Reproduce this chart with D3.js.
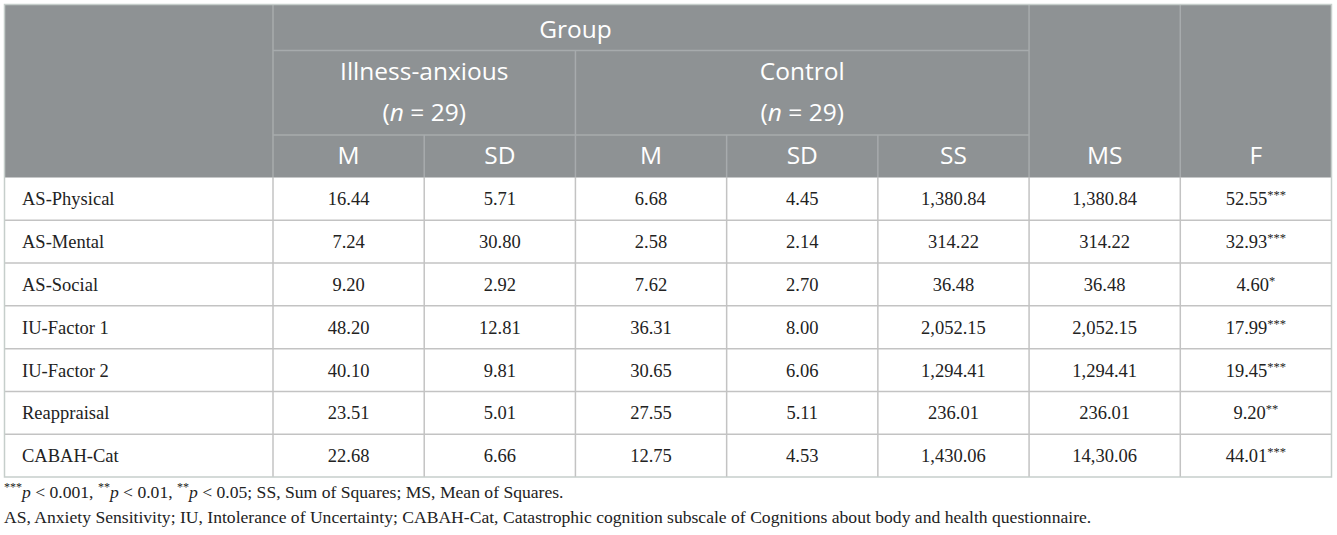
<!DOCTYPE html>
<html><head><meta charset="utf-8">
<script src="https://cdn.jsdelivr.net/npm/d3@7"></script>
<style>body{margin:0;background:#fff;} svg{display:block;}</style>
</head><body>
<script>
const rowLabels = ["AS-Physical","AS-Mental","AS-Social","IU-Factor 1","IU-Factor 2","Reappraisal","CABAH-Cat"];
const illM  = ["16.44","7.24","9.20","48.20","40.10","23.51","22.68"];
const illSD = ["5.71","30.80","2.92","12.81","9.81","5.01","6.66"];
const ctlM  = ["6.68","2.58","7.62","36.31","30.65","27.55","12.75"];
const ctlSD = ["4.45","2.14","2.70","8.00","6.06","5.11","4.53"];
const ssVal = ["1,380.84","314.22","36.48","2,052.15","1,294.41","236.01","1,430.06"];
const msVal = ["1,380.84","314.22","36.48","2,052.15","1,294.41","236.01","14,30.06"];
const fVal  = ["52.55","32.93","4.60","17.99","19.45","9.20","44.01"];
const fSig  = ["***","***","*","***","***","**","***"];
const subHeaders = ["M","SD","M","SD","SS","MS","F"];

(function(){
const W = 1337, H = 535;
const svg = d3.select("body").append("svg").attr("width", W).attr("height", H);

const tLeft = 4.5, tRight = 1331.5, tTop = 4.5, tBottom = 477;
const firstColRight = 273;
const x = d3.scaleLinear().domain([0, 7]).range([firstColRight, tRight]);
const hdr = [tTop, 50.5, 135, 177.5];
const y = d3.scaleBand().domain(rowLabels).range([hdr[3], tBottom]);

const headFill = "#8e9294", headLine = "#a7abad", bodyLine = "#c3c3c3", outer = "#c6cecb";
const sans = "'Open Sans', 'Noto Sans', sans-serif";
const serif = "'Liberation Serif', 'DejaVu Serif', serif";

svg.append("rect").attr("x", tLeft).attr("y", tTop).attr("width", tRight-tLeft).attr("height", hdr[3]-tTop).attr("fill", headFill);

const hl = svg.append("g").attr("stroke", headLine).attr("stroke-width", 1.5);
hl.append("line").attr("x1", x(0)).attr("x2", x(0)).attr("y1", tTop).attr("y2", hdr[3]);
hl.append("line").attr("x1", x(5)).attr("x2", x(5)).attr("y1", tTop).attr("y2", hdr[3]);
hl.append("line").attr("x1", x(6)).attr("x2", x(6)).attr("y1", tTop).attr("y2", hdr[3]);
hl.append("line").attr("x1", x(0)).attr("x2", x(5)).attr("y1", hdr[1]).attr("y2", hdr[1]);
hl.append("line").attr("x1", x(2)).attr("x2", x(2)).attr("y1", hdr[1]).attr("y2", hdr[3]);
hl.append("line").attr("x1", x(0)).attr("x2", x(5)).attr("y1", hdr[2]).attr("y2", hdr[2]);
[1,3,4].forEach(i => hl.append("line").attr("x1", x(i)).attr("x2", x(i)).attr("y1", hdr[2]).attr("y2", hdr[3]));

const ht = svg.append("g").attr("fill", "#fff").attr("font-family", sans).attr("font-size", 24.5).attr("text-anchor", "middle");
ht.append("text").attr("x", (x(0)+x(4))/2).attr("y", 38).text("Group");
ht.append("text").attr("x", (x(0)+x(2))/2).attr("y", 80).text("Illness-anxious");
ht.append("text").attr("x", (x(2)+x(5))/2).attr("y", 80).text("Control");
[[0,2],[2,5]].forEach(([a,b]) => {
  const t = ht.append("text").attr("x", (x(a)+x(b))/2).attr("y", 121);
  t.append("tspan").text("(");
  t.append("tspan").attr("font-style", "italic").text("n");
  t.append("tspan").text(" = 29)");
});
subHeaders.forEach((s, i) => ht.append("text").attr("x", (x(i)+x(i+1))/2).attr("y", 164).text(s));

const bl = svg.append("g").attr("stroke", bodyLine).attr("stroke-width", 1.5);
rowLabels.slice(1).forEach(r => bl.append("line").attr("x1", tLeft).attr("x2", tRight).attr("y1", y(r)).attr("y2", y(r)));
d3.range(0, 7).forEach(i => bl.append("line").attr("x1", x(i)).attr("x2", x(i)).attr("y1", hdr[3]).attr("y2", tBottom));

svg.append("rect").attr("x", tLeft).attr("y", tTop).attr("width", tRight-tLeft).attr("height", tBottom-tTop)
  .attr("fill", "none").attr("stroke", outer).attr("stroke-width", 1.5);

const bt = svg.append("g").attr("font-family", serif).attr("font-size", 18.5).attr("fill", "#222");
const cols = [illM, illSD, ctlM, ctlSD, ssVal, msVal];
rowLabels.forEach((r, ri) => {
  const cy = y(r) + y.bandwidth()/2 + 6.5;
  bt.append("text").attr("x", 22).attr("y", cy).text(r);
  cols.forEach((c, ci) => bt.append("text").attr("x", (x(ci)+x(ci+1))/2).attr("y", cy).attr("text-anchor", "middle").text(c[ri]));
  const t = bt.append("text").attr("x", (x(6)+x(7))/2).attr("y", cy).attr("text-anchor", "middle");
  t.append("tspan").text(fVal[ri]);
  t.append("tspan").attr("font-size", 12.5).attr("dy", -6).text(fSig[ri]);
});

const fn = svg.append("g").attr("font-family", serif).attr("font-size", 17.6).attr("fill", "#222");
const f1 = fn.append("text").attr("x", 4).attr("y", 498);
[["***",true,false],["p",false,true],[" < 0.001, ",false,false],["**",true,false],["p",false,true],[" < 0.01, ",false,false],["**",true,false],["p",false,true],[" < 0.05; SS, Sum of Squares; MS, Mean of Squares.",false,false]]
  .forEach(([s, sup, it]) => {
    const ts = f1.append("tspan").text(s);
    if (sup) ts.attr("font-size", 12).attr("baseline-shift", "super");
    if (it) ts.attr("font-style", "italic");
  });
fn.append("text").attr("x", 4).attr("y", 523).text("AS, Anxiety Sensitivity; IU, Intolerance of Uncertainty; CABAH-Cat, Catastrophic cognition subscale of Cognitions about body and health questionnaire.");
})();
</script>
</body></html>
